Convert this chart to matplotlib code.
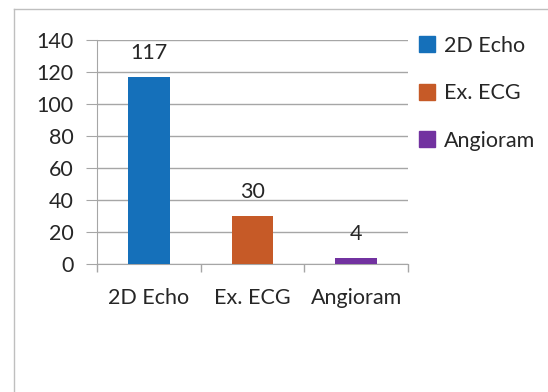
import matplotlib.pyplot as plt
from matplotlib.lines import Line2D

tests = ["2D Echo", "Ex. ECG", "Angioram"]
counts = [117, 30, 4]
colors = ["#1570BA", "#C65A27", "#7232A0"]

plt.rcParams["font.family"] = ["Lato", "DejaVu Sans"]
fs = 15.5
fig = plt.figure(figsize=(5.48, 3.92), dpi=100)
ax = fig.add_axes([97 / 548, 1 - 264 / 392, 311 / 548, 224 / 392])

x = range(len(tests))
bars = ax.bar(x, counts, width=0.4, color=colors, zorder=3)
for b, v in zip(bars, counts):
    ax.text(b.get_x() + b.get_width() / 2, v + 8.5, str(v), ha="center", va="bottom",
            fontsize=fs, color="#262626")

ax.set_xlim(-0.5, 2.5)
ax.set_ylim(0, 140)
ax.set_yticks(range(0, 141, 20))
ax.set_xticks(list(x))
ax.set_xticklabels(tests)
ax.set_xticks([-0.5, 0.5, 1.5, 2.5], minor=True)
ax.tick_params(axis="x", which="major", length=0, pad=17, labelsize=fs, labelcolor="#262626")
ax.tick_params(axis="x", which="minor", length=6, color="#A6A6A6", width=1)
ax.tick_params(axis="y", length=8, color="#A6A6A6", labelsize=fs, labelcolor="#262626", pad=9)
ax.grid(axis="y", color="#A6A6A6", linewidth=1, zorder=0)
for s in ["top", "right"]:
    ax.spines[s].set_visible(False)
ax.spines["left"].set_color("#A6A6A6")
ax.spines["bottom"].set_color("#A6A6A6")

# legend with square markers
handles = [Line2D([], [], marker="s", linestyle="", markersize=11, color=c) for c in colors]
fig.legend(handles, tests, loc="upper left", bbox_to_anchor=(411 / 548, 1 - 27 / 392),
           frameon=False, fontsize=fs, handlelength=0.7, handletextpad=0.45,
           labelspacing=1.28, borderaxespad=0, labelcolor="#262626")

# chart area border
fig.add_artist(Line2D([14 / 548, 14 / 548], [0, 1 - 9 / 392], color="#BFBFBF", lw=1))
fig.add_artist(Line2D([14 / 548, 1], [1 - 9 / 392, 1 - 9 / 392], color="#BFBFBF", lw=1))

fig.savefig("out.png", dpi=100)
